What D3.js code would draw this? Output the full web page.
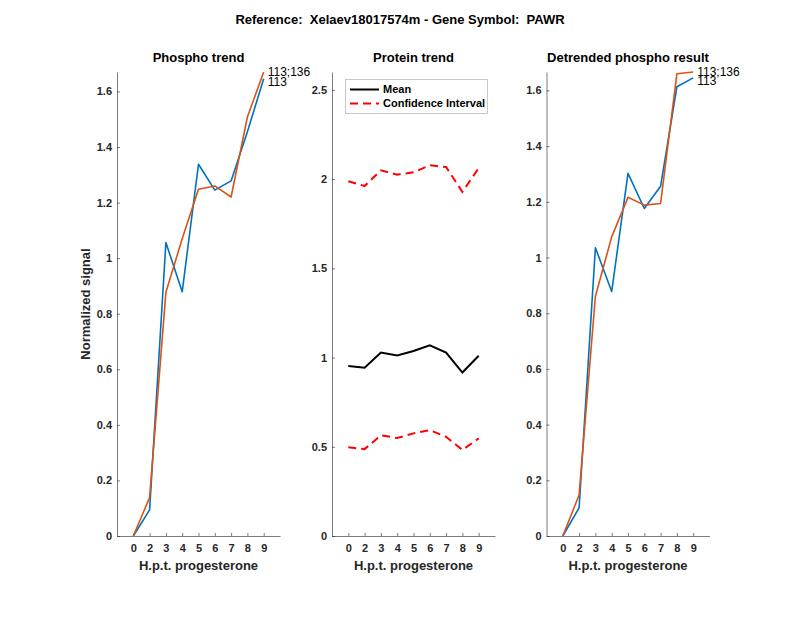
<!DOCTYPE html>
<html>
<head>
<meta charset="utf-8">
<script src="https://cdn.jsdelivr.net/npm/d3@7"></script>
<style>
  body { margin: 0; background: #fff; }
  svg { font-family: "Liberation Sans", Arial, sans-serif; }
  .tick text { font-weight: bold; fill: #262626; font-size: 11px; }
</style>
</head>
<body>
<svg id="chart" width="800" height="618"></svg>
<script>
// x positions 1..9, labelled by hour
const hours = ["0", "2", "3", "4", "5", "6", "7", "8", "9"];

// phospho trend
const phosphoBlue = [0, 0.094, 1.056, 0.879, 1.338, 1.245, 1.278, 1.455, 1.646];
const phosphoOrange = [0, 0.138, 0.877, 1.07, 1.248, 1.26, 1.22, 1.508, 1.67];

// protein trend
const proteinMean = [0.952, 0.943, 1.028, 1.012, 1.037, 1.069, 1.028, 0.916, 1.01];
const ciLower = [0.497, 0.487, 0.564, 0.549, 0.575, 0.593, 0.556, 0.482, 0.547];
const ciUpper = [1.988, 1.961, 2.049, 2.025, 2.038, 2.077, 2.068, 1.928, 2.062];

// detrended phospho
const detrBlue = [0, 0.101, 1.035, 0.878, 1.302, 1.176, 1.256, 1.613, 1.645];
const detrOrange = [0, 0.147, 0.861, 1.074, 1.216, 1.188, 1.194, 1.66, 1.666];

const seriesNames = ["113", "113;136"];
const blue = "#0072BD", orange = "#D95319";

const svg = d3.select("#chart");
const plotTop = 72, plotBottom = 536, w = 163;
const axisColor = "#262626";

svg.append("text")
  .attr("x", 400).attr("y", 24)
  .attr("text-anchor", "middle")
  .attr("font-size", "13px").attr("font-weight", "bold")
  .attr("fill", "#000")
  .style("white-space", "pre")
  .text("Reference:  Xelaev18017574m - Gene Symbol:  PAWR");

function panel(left, title, yMax, yTicks) {
  const g = svg.append("g");
  const x = d3.scaleLinear().domain([0, 10]).range([left, left + w]);
  const y = d3.scaleLinear().domain([0, yMax]).range([plotBottom, plotTop]);

  const xAxis = g.append("g")
    .attr("transform", `translate(0,${plotBottom})`)
    .call(d3.axisBottom(x).tickValues(d3.range(1, 10))
      .tickFormat((d) => hours[d - 1]).tickSizeInner(-3).tickSizeOuter(0).tickPadding(8));
  const yAxis = g.append("g")
    .attr("transform", `translate(${left},0)`)
    .call(d3.axisLeft(y).tickValues(yTicks).tickFormat(d3.format(".1~f"))
      .tickSizeInner(-3).tickSizeOuter(0).tickPadding(5));
  [xAxis, yAxis].forEach((a) => {
    a.select(".domain").attr("stroke", axisColor).attr("stroke-width", 0.6);
    a.selectAll(".tick line").attr("stroke", axisColor).attr("stroke-width", 0.6);
  });

  g.append("text")
    .attr("x", left + w / 2).attr("y", 62)
    .attr("text-anchor", "middle")
    .attr("font-size", "13px").attr("font-weight", "bold")
    .text(title);

  g.append("text")
    .attr("x", left + w / 2).attr("y", 570)
    .attr("text-anchor", "middle")
    .attr("font-size", "13px").attr("font-weight", "bold")
    .attr("fill", "#262626")
    .text("H.p.t. progesterone");

  return { g, x, y };
}

function trendLines(p, blueVals, orangeVals) {
  const line = d3.line().x((d, i) => p.x(i + 1)).y((d) => p.y(d));
  [[blueVals, blue], [orangeVals, orange]].forEach(([vals, col]) => {
    p.g.append("path")
      .attr("d", line(vals))
      .attr("fill", "none")
      .attr("stroke", col)
      .attr("stroke-width", 1.6)
      .attr("stroke-linejoin", "round");
  });
  [[blueVals, seriesNames[0], 3], [orangeVals, seriesNames[1], 0]].forEach(([vals, name, dy]) => {
    p.g.append("text")
      .attr("x", p.x(9) + 4)
      .attr("y", p.y(vals[8]) + dy)
      .attr("dy", "0.35em")
      .attr("font-size", "12px")
      .attr("fill", "#000")
      .text(name);
  });
}

// left
const yMaxL = d3.max(phosphoOrange.concat(phosphoBlue));
const p1 = panel(117, "Phospho trend", yMaxL, d3.range(0, 1.61, 0.2));
trendLines(p1, phosphoBlue, phosphoOrange);
svg.append("text")
  .attr("transform", `translate(90,${(plotTop + plotBottom) / 2}) rotate(-90)`)
  .attr("text-anchor", "middle")
  .attr("font-size", "13px").attr("font-weight", "bold")
  .attr("fill", "#262626")
  .text("Normalized signal");

// middle
const p2 = panel(332, "Protein trend", 2.6, d3.range(0, 2.51, 0.5));
const line2 = d3.line().x((d, i) => p2.x(i + 1)).y((d) => p2.y(d));
p2.g.append("path").attr("d", line2(proteinMean))
  .attr("fill", "none").attr("stroke", "#000").attr("stroke-width", 2);
[ciUpper, ciLower].forEach((vals) => {
  p2.g.append("path").attr("d", line2(vals))
    .attr("fill", "none").attr("stroke", "#ff0000").attr("stroke-width", 2)
    .attr("stroke-dasharray", "8,5");
});
// legend
const lg = p2.g.append("g");
lg.append("rect").attr("x", 345.5).attr("y", 79.5).attr("width", 142).attr("height", 34)
  .attr("fill", "#fff").attr("stroke", "#bbb").attr("stroke-width", 0.8);
const legendItems = [["Mean", "#000", null], ["Confidence Interval", "#ff0000", "8,5"]];
legendItems.forEach(([label, col, dash], i) => {
  const ly = 89.5 + i * 14;
  lg.append("line").attr("x1", 350).attr("x2", 379).attr("y1", ly).attr("y2", ly)
    .attr("stroke", col).attr("stroke-width", 2).attr("stroke-dasharray", dash);
  lg.append("text").attr("x", 383).attr("y", ly).attr("dy", "0.35em")
    .attr("font-size", "11px").attr("font-weight", "bold").attr("fill", "#000")
    .text(label);
});

// right
const yMaxR = d3.max(detrOrange.concat(detrBlue));
const p3 = panel(546.5, "Detrended phospho result", yMaxR, d3.range(0, 1.61, 0.2));
trendLines(p3, detrBlue, detrOrange);
</script>
</body>
</html>
